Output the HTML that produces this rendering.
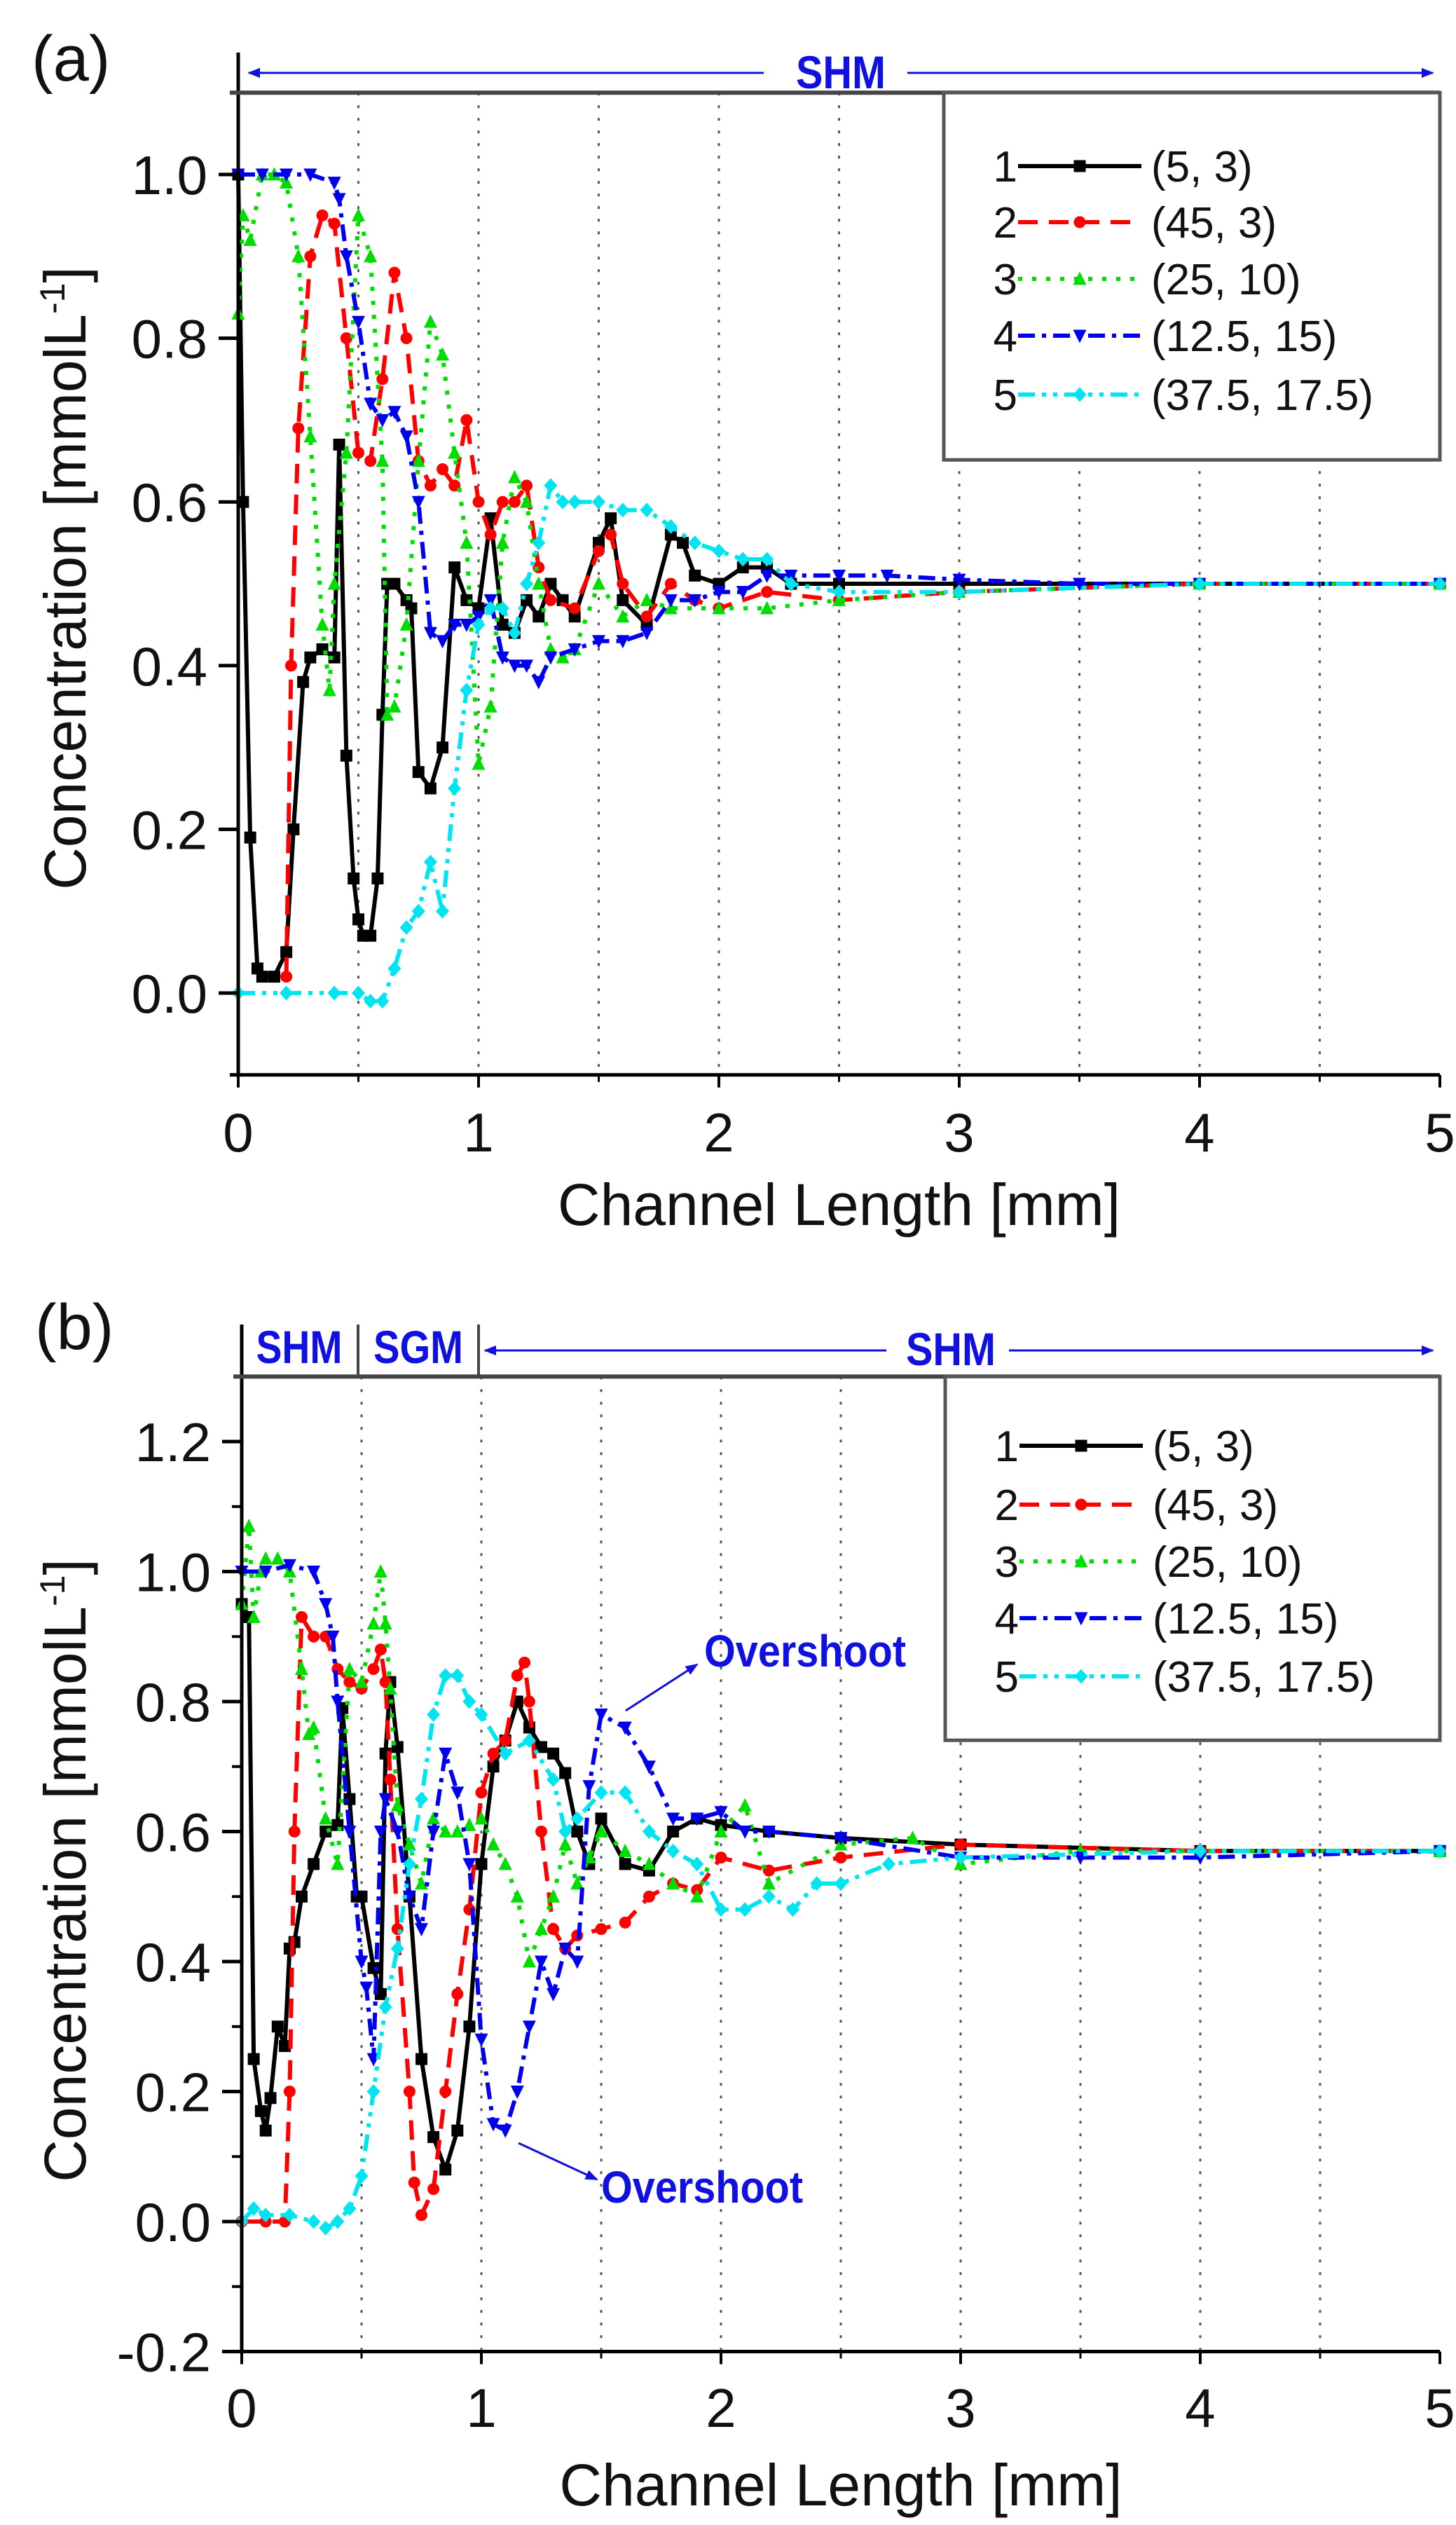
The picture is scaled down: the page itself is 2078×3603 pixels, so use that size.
<!DOCTYPE html>
<html><head><meta charset="utf-8"><style>
html,body{margin:0;padding:0;background:#fff;}
svg{display:block;font-family:"Liberation Sans",Arial,sans-serif;}
</style></head><body>
<svg id="fig" xmlns="http://www.w3.org/2000/svg" width="2078" height="3603" viewBox="0 0 2078 3603">
<defs>
<marker id="ah" viewBox="0 0 10 10" refX="9" refY="5" markerWidth="6" markerHeight="6" orient="auto-start-reverse"><path d="M0,1 L10,5 L0,9 z" fill="#1010e0"/></marker>
</defs>
<g id="pa"></g>
<g id="pb"></g>
</svg>
<script>
// ---- data (mm, mmol/L) ----
const xTicks = [0,1,2,3,4,5];
const aYTicks = [0.0,0.2,0.4,0.6,0.8,1.0];
const bYTicks = [-0.2,0.0,0.2,0.4,0.6,0.8,1.0,1.2];
const legendLabels = ["(5, 3)","(45, 3)","(25, 10)","(12.5, 15)","(37.5, 17.5)"];

const a1x=[0,0.02,0.05,0.08,0.1,0.15,0.2,0.23,0.27,0.3,0.35,0.4,0.42,0.45,0.48,0.5,0.52,0.55,0.58,0.6,0.62,0.65,0.7,0.72,0.75,0.8,0.85,0.9,0.95,1.0,1.05,1.1,1.15,1.2,1.25,1.3,1.35,1.4,1.5,1.55,1.6,1.7,1.8,1.85,1.9,2.0,2.1,2.2,2.3,2.5,3,4,5];
const a1y=[1.0,0.6,0.19,0.03,0.02,0.02,0.05,0.2,0.38,0.41,0.42,0.41,0.67,0.29,0.14,0.09,0.07,0.07,0.14,0.34,0.5,0.5,0.48,0.47,0.27,0.25,0.3,0.52,0.48,0.47,0.58,0.45,0.44,0.48,0.46,0.5,0.48,0.46,0.55,0.58,0.48,0.45,0.56,0.55,0.51,0.5,0.52,0.52,0.5,0.5,0.5,0.5,0.5];
const a2x=[0.2,0.22,0.25,0.3,0.35,0.4,0.45,0.5,0.55,0.6,0.65,0.7,0.75,0.8,0.85,0.9,0.95,1.0,1.05,1.1,1.15,1.2,1.25,1.3,1.4,1.5,1.55,1.6,1.7,1.8,1.9,2.0,2.2,2.5,3,4,5];
const a2y=[0.02,0.4,0.69,0.9,0.95,0.94,0.8,0.66,0.65,0.75,0.88,0.8,0.65,0.62,0.64,0.62,0.7,0.6,0.56,0.6,0.6,0.62,0.52,0.48,0.47,0.54,0.56,0.5,0.46,0.5,0.48,0.47,0.49,0.48,0.49,0.5,0.5];
const a3x=[0,0.02,0.05,0.1,0.15,0.2,0.25,0.3,0.35,0.38,0.4,0.45,0.5,0.55,0.6,0.62,0.65,0.7,0.75,0.8,0.85,0.9,0.95,1.0,1.05,1.1,1.15,1.2,1.25,1.3,1.35,1.4,1.5,1.6,1.7,1.8,2.0,2.2,2.5,3,4,5];
const a3y=[0.83,0.95,0.92,1.0,1.0,0.99,0.9,0.68,0.45,0.37,0.5,0.66,0.95,0.9,0.65,0.34,0.35,0.45,0.65,0.82,0.78,0.66,0.55,0.28,0.35,0.55,0.63,0.6,0.5,0.42,0.41,0.42,0.5,0.46,0.48,0.47,0.47,0.47,0.48,0.49,0.5,0.5];
const a4x=[0,0.1,0.2,0.3,0.4,0.42,0.45,0.5,0.55,0.6,0.65,0.7,0.75,0.8,0.85,0.9,0.95,1.0,1.05,1.1,1.15,1.2,1.25,1.3,1.4,1.5,1.6,1.7,1.8,1.9,2.0,2.1,2.2,2.3,2.5,2.7,3,3.5,4,5];
const a4y=[1.0,1.0,1.0,1.0,0.99,0.97,0.9,0.82,0.72,0.7,0.71,0.68,0.6,0.44,0.43,0.45,0.45,0.46,0.48,0.41,0.4,0.4,0.38,0.41,0.42,0.43,0.43,0.44,0.48,0.48,0.49,0.49,0.51,0.51,0.51,0.51,0.505,0.5,0.5,0.5];
const a5x=[0,0.2,0.4,0.5,0.55,0.6,0.65,0.7,0.75,0.8,0.85,0.9,0.95,1.0,1.05,1.1,1.15,1.2,1.25,1.3,1.35,1.4,1.5,1.6,1.7,1.8,1.9,2.0,2.1,2.2,2.3,2.5,3,4,5];
const a5y=[0,0,0,0,-0.01,-0.01,0.03,0.08,0.1,0.16,0.1,0.25,0.37,0.45,0.47,0.47,0.44,0.5,0.55,0.62,0.6,0.6,0.6,0.59,0.59,0.57,0.55,0.54,0.53,0.53,0.5,0.49,0.49,0.5,0.5];

const b1x=[0,0.03,0.05,0.08,0.1,0.12,0.15,0.18,0.2,0.22,0.25,0.3,0.35,0.4,0.42,0.45,0.48,0.5,0.55,0.58,0.6,0.62,0.65,0.7,0.75,0.8,0.85,0.9,0.95,1.0,1.05,1.1,1.15,1.2,1.25,1.3,1.35,1.4,1.45,1.5,1.6,1.7,1.8,1.9,2.0,2.2,2.5,3,4,5];
const b1y=[0.95,0.93,0.25,0.17,0.14,0.19,0.3,0.27,0.42,0.43,0.5,0.55,0.6,0.61,0.79,0.65,0.5,0.5,0.39,0.35,0.72,0.83,0.73,0.5,0.25,0.13,0.08,0.14,0.3,0.55,0.7,0.74,0.8,0.76,0.73,0.72,0.69,0.6,0.55,0.62,0.55,0.54,0.6,0.62,0.61,0.6,0.59,0.58,0.57,0.57];
const b2x=[0,0.1,0.18,0.2,0.22,0.25,0.3,0.35,0.4,0.45,0.5,0.55,0.58,0.6,0.62,0.65,0.7,0.72,0.75,0.8,0.85,0.9,0.95,1.0,1.05,1.1,1.15,1.18,1.2,1.25,1.3,1.35,1.4,1.5,1.6,1.7,1.8,1.9,2.0,2.2,2.5,3,4,5];
const b2y=[0,0,0,0.2,0.6,0.93,0.9,0.9,0.85,0.83,0.82,0.85,0.88,0.83,0.68,0.45,0.2,0.06,0.01,0.05,0.2,0.35,0.48,0.66,0.72,0.74,0.84,0.86,0.8,0.6,0.45,0.42,0.44,0.45,0.46,0.5,0.52,0.51,0.56,0.54,0.56,0.58,0.57,0.57];
const b3x=[0,0.03,0.05,0.08,0.1,0.15,0.2,0.25,0.28,0.3,0.35,0.4,0.45,0.5,0.55,0.58,0.6,0.62,0.65,0.7,0.75,0.8,0.85,0.9,0.95,1.0,1.05,1.1,1.15,1.2,1.25,1.3,1.35,1.4,1.45,1.5,1.6,1.7,1.8,1.9,2.0,2.1,2.2,2.5,2.8,3,3.5,4,5];
const b3y=[0.95,1.07,0.93,1.0,1.02,1.02,1.0,0.85,0.75,0.76,0.62,0.55,0.85,0.83,0.92,1.0,0.92,0.82,0.64,0.58,0.52,0.62,0.6,0.6,0.61,0.62,0.58,0.55,0.5,0.4,0.45,0.5,0.58,0.52,0.56,0.6,0.57,0.55,0.52,0.5,0.6,0.64,0.52,0.58,0.59,0.55,0.57,0.57,0.57];
const b4x=[0,0.1,0.2,0.3,0.35,0.38,0.4,0.45,0.5,0.52,0.55,0.58,0.6,0.65,0.7,0.75,0.8,0.85,0.9,0.95,1.0,1.05,1.1,1.15,1.2,1.25,1.3,1.35,1.4,1.45,1.5,1.6,1.7,1.8,1.9,2.0,2.1,2.2,2.5,3,3.5,4,5];
const b4y=[1.0,1.0,1.01,1.0,0.95,0.9,0.8,0.6,0.4,0.36,0.25,0.6,0.65,0.6,0.5,0.45,0.6,0.72,0.66,0.55,0.28,0.15,0.14,0.2,0.3,0.4,0.35,0.42,0.4,0.67,0.78,0.76,0.7,0.62,0.62,0.63,0.6,0.6,0.59,0.56,0.56,0.56,0.57];
const b5x=[0,0.05,0.1,0.2,0.3,0.35,0.4,0.45,0.5,0.55,0.6,0.65,0.7,0.75,0.8,0.85,0.9,0.95,1.0,1.1,1.2,1.3,1.35,1.4,1.5,1.6,1.7,1.8,1.9,2.0,2.1,2.2,2.3,2.4,2.5,2.7,3,4,5];
const b5y=[0,0.02,0.01,0.01,0.0,-0.01,0.0,0.02,0.07,0.2,0.33,0.42,0.55,0.65,0.78,0.84,0.84,0.8,0.78,0.72,0.74,0.68,0.6,0.62,0.66,0.66,0.6,0.57,0.55,0.48,0.48,0.5,0.48,0.52,0.52,0.55,0.56,0.57,0.57];

const NS="http://www.w3.org/2000/svg";
const colors=["#000000","#ff0000","#00dd00","#0000ee","#00e5f0"];
const dashes=["", "28 16", "6 14", "24 10 6 10", "24 10 6 10 6 10"];
const markerShapes=["square","circle","tri","tridown","diamond"];
function mk(tag,attrs,parent){const e=document.createElementNS(NS,tag);for(const k in attrs)e.setAttribute(k,attrs[k]);parent.appendChild(e);return e;}
function marker(g,shape,x,y,c){const s=8.5;let e;
 if(shape==="square") e=mk("rect",{x:x-s,y:y-s,width:2*s,height:2*s,fill:c},g);
 else if(shape==="circle") e=mk("circle",{cx:x,cy:y,r:s,fill:c},g);
 else if(shape==="tri") e=mk("polygon",{points:`${x},${y-s-2} ${x-s-1},${y+s} ${x+s+1},${y+s}`,fill:c},g);
 else if(shape==="tridown") e=mk("polygon",{points:`${x},${y+s+2} ${x-s-1},${y-s} ${x+s+1},${y-s}`,fill:c},g);
 else e=mk("polygon",{points:`${x},${y-s-2} ${x+s+1},${y} ${x},${y+s+2} ${x-s-1},${y}`,fill:c},g);
 
 
}
function txt(g,x,y,s,attrs,name){const t=mk("text",Object.assign({x:x,y:y},attrs),g);t.textContent=s;
 
 return t;}

function panel(g,cfg){
 const X=v=>cfg.x0+(v-0)/5*(cfg.x1-cfg.x0);
 const Y=v=>cfg.yZero-(v)*cfg.pxPerUnit;
 const yb=Y(cfg.ymin), yt=Y(cfg.ymax);
 for(let v=0.5;v<5;v+=0.5){const l=mk("line",{x1:X(v),x2:X(v),y1:yt,y2:yb,stroke:"#555","stroke-width":3,"stroke-dasharray":"4 14"},g);
  
  }
 cfg.series.forEach((s,i)=>{
  const sg=mk("g",{},g);
  
  
  const pts=s[0].map((xv,j)=>X(xv).toFixed(1)+","+Y(s[1][j]).toFixed(1)).join(" ");
  const pl=mk("polyline",{points:pts,fill:"none",stroke:colors[i],"stroke-width":6,"stroke-linejoin":"round"},sg);
  if(dashes[i]) pl.setAttribute("stroke-dasharray",dashes[i]);
  
  
  s[0].forEach((xv,j)=>marker(sg,markerShapes[i],X(xv),Y(s[1][j]),colors[i]));
 });
 mk("line",{x1:cfg.x0,x2:cfg.x0,y1:cfg.bracketTop,y2:yb+3,stroke:"#000","stroke-width":5},g);
 mk("line",{x1:cfg.x0-12,x2:cfg.x1,y1:yb,y2:yb,stroke:"#000","stroke-width":5},g);
 mk("line",{x1:cfg.x0-12,x2:cfg.x1,y1:yt,y2:yt,stroke:"#444","stroke-width":6},g);
 xTicks.forEach(v=>{mk("line",{x1:X(v),x2:X(v),y1:yb,y2:yb+18,stroke:"#000","stroke-width":4},g);
  txt(g,X(v),cfg.xLabelY,String(v),{"font-size":78,"text-anchor":"middle",fill:"#111"},'x-tick-label');});
 for(let v=0.5;v<5;v+=1){mk("line",{x1:X(v),x2:X(v),y1:yb,y2:yb+10,stroke:"#000","stroke-width":3},g);}
 cfg.yTicks.forEach(v=>{mk("line",{x1:cfg.x0-28,x2:cfg.x0,y1:Y(v),y2:Y(v),stroke:"#000","stroke-width":5},g);
  txt(g,cfg.x0-44,Y(v)+28,v.toFixed(1),{"font-size":78,"text-anchor":"end",fill:"#111"},'y-tick-label');});
 for(let v=cfg.ymin;v<=cfg.ymax+1e-9;v+=0.2){const m=v+0.1;if(m<cfg.ymax)mk("line",{x1:cfg.x0-14,x2:cfg.x0,y1:Y(m),y2:Y(m),stroke:"#000","stroke-width":4},g);}
 txt(g,(cfg.x0+cfg.x1)/2,cfg.titleY,"Channel Length [mm]",{"font-size":84,"text-anchor":"middle",fill:"#111"},'x-axis-title');
 const yt2=txt(g,0,0,"",{"font-size":84,"text-anchor":"middle",fill:"#111",transform:`translate(${cfg.ytX},${cfg.ytY}) rotate(-90)`},'y-axis-title');
 yt2.innerHTML='Concentration [mmolL<tspan dy="-30" font-size="50">-1</tspan><tspan dy="30">]</tspan>';
 txt(g,cfg.labelX,cfg.labelY,cfg.label,{"font-size":92,fill:"#111"},'panel-label');
 const lg=mk("g",{},g);
 
 
 mk("rect",{x:cfg.lx,y:yt,width:cfg.x1-cfg.lx,height:cfg.lh,fill:"#fff",stroke:"#555","stroke-width":5},lg);
 cfg.ly.forEach((yy,i)=>{
  const e=mk("g",{},lg);
  
  
  txt(e,cfg.lx+105,yy+22,String(i+1),{"font-size":62,"text-anchor":"end",fill:"#111"},'legend-number');
  const l=mk("line",{x1:cfg.lx+106,x2:cfg.lx+282,y1:yy,y2:yy,stroke:colors[i],"stroke-width":6},e);
  if(dashes[i]) l.setAttribute("stroke-dasharray",dashes[i]);
  marker(e,markerShapes[i],cfg.lx+194,yy,colors[i]);
  txt(e,cfg.lx+296,yy+22,legendLabels[i],{"font-size":62,fill:"#111"},'legend-label');
 });
 return {X,Y,yt};
}

const A=panel(document.getElementById("pa"),{x0:340,x1:2055,yZero:1417,pxPerUnit:1168,ymin:-0.1,ymax:1.1,yTicks:aYTicks,
 series:[[a1x,a1y],[a2x,a2y],[a3x,a3y],[a4x,a4y],[a5x,a5y]],bracketTop:75,xLabelY:1643,titleY:1748,ytX:122,ytY:825,
 label:"(a)",labelX:45,labelY:115,lx:1347,lh:524,ly:[237,317,398,479,563]});
const B=panel(document.getElementById("pb"),{x0:345,x1:2055,yZero:3170,pxPerUnit:927.5,ymin:-0.2,ymax:1.3,yTicks:bYTicks,
 series:[[b1x,b1y],[b2x,b2y],[b3x,b3y],[b4x,b4y],[b5x,b5y]],bracketTop:1890,xLabelY:3463,titleY:3575,ytX:122,ytY:2669,
 label:"(b)",labelX:50,labelY:1925,lx:1349,lh:519,ly:[2063,2147,2228,2309,2392]});

const pa=document.getElementById("pa"), pb=document.getElementById("pb");
const blue="#1010e0";
let l;
l=mk("line",{x1:355,x2:1090,y1:104,y2:104,stroke:blue,"stroke-width":3,"marker-start":"url(#ah)"},pa);

l=mk("line",{x1:1295,x2:2045,y1:104,y2:104,stroke:blue,"stroke-width":3,"marker-end":"url(#ah)"},pa);

txt(pa,1200,126,"SHM",{"font-size":66,"font-weight":"bold","text-anchor":"middle",fill:blue,textLength:128,lengthAdjust:"spacingAndGlyphs"},'shm-label');

[511,683].forEach(x=>{const s=mk("line",{x1:x,x2:x,y1:1890,y2:1965,stroke:"#444","stroke-width":4},pb);
 
 });
txt(pb,427,1945,"SHM",{"font-size":66,"font-weight":"bold","text-anchor":"middle",fill:blue,textLength:123,lengthAdjust:"spacingAndGlyphs"},'shm-label');
txt(pb,597,1945,"SGM",{"font-size":66,"font-weight":"bold","text-anchor":"middle",fill:blue,textLength:128,lengthAdjust:"spacingAndGlyphs"},'sgm-label');
l=mk("line",{x1:692,x2:1265,y1:1927,y2:1927,stroke:blue,"stroke-width":3,"marker-start":"url(#ah)"},pb);

l=mk("line",{x1:1440,x2:2045,y1:1927,y2:1927,stroke:blue,"stroke-width":3,"marker-end":"url(#ah)"},pb);

txt(pb,1357,1948,"SHM",{"font-size":66,"font-weight":"bold","text-anchor":"middle",fill:blue,textLength:128,lengthAdjust:"spacingAndGlyphs"},'shm-label');

l=mk("line",{x1:893,x2:995,y1:2441,y2:2375,stroke:blue,"stroke-width":3,"marker-end":"url(#ah)"},pb);

txt(pb,1005,2378,"Overshoot",{"font-size":64,"font-weight":"bold",fill:blue,textLength:288,lengthAdjust:"spacingAndGlyphs"},'overshoot-label-upper');
l=mk("line",{x1:740,x2:852,y1:3058,y2:3110,stroke:blue,"stroke-width":3,"marker-end":"url(#ah)"},pb);

txt(pb,858,3143,"Overshoot",{"font-size":64,"font-weight":"bold",fill:blue,textLength:288,lengthAdjust:"spacingAndGlyphs"},'overshoot-label-lower');
</script>
</body></html>
